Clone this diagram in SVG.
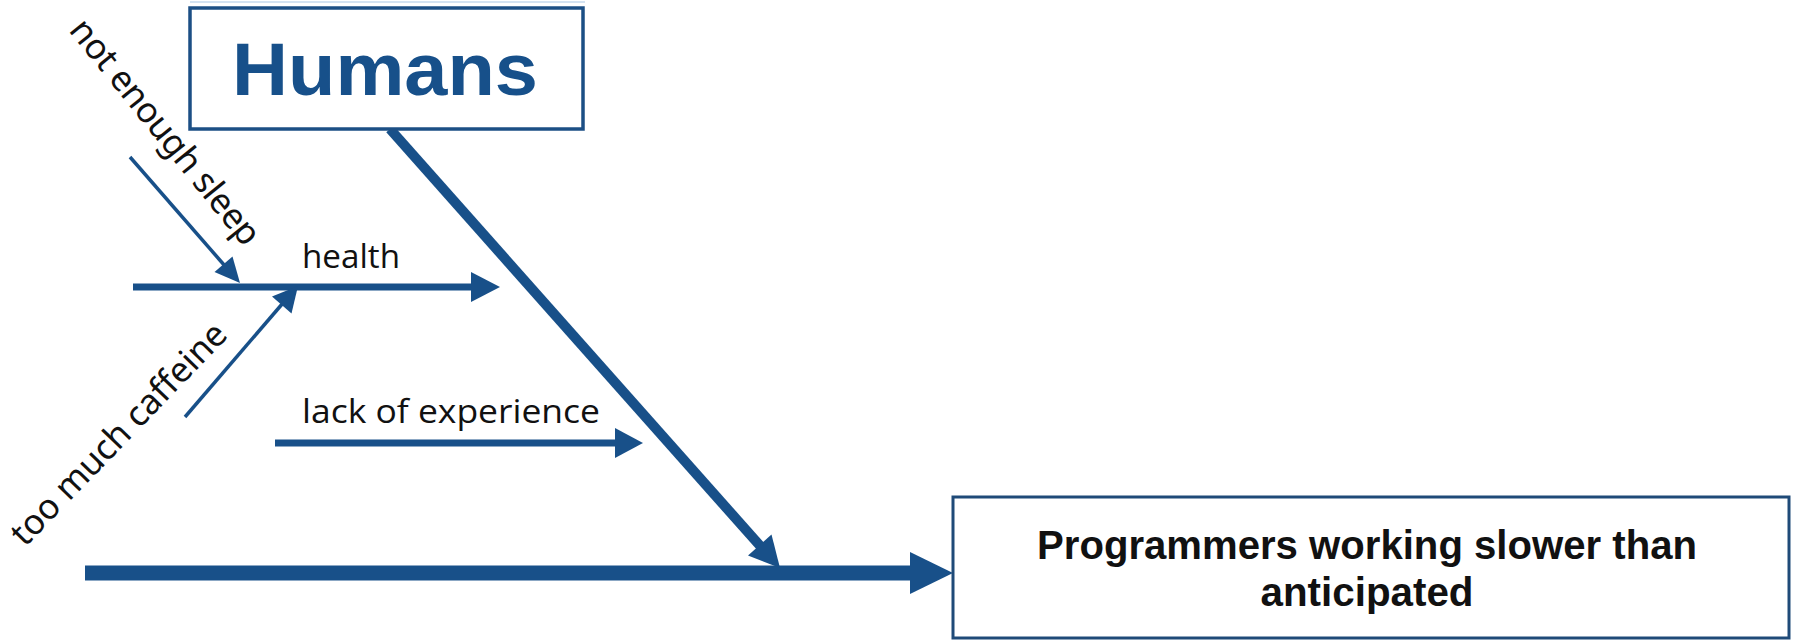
<svg xmlns="http://www.w3.org/2000/svg" width="1798" height="641" viewBox="0 0 1798 641">
  <style>
    .bg { fill: #ffffff; }
    .box { fill: #ffffff; stroke: #1c4f85; stroke-width: 3.5; }
    .rbox { fill: #ffffff; stroke: #1f4a78; stroke-width: 3; }
    .ln { stroke: #185089; fill: none; stroke-linecap: butt; }
    .hd { fill: #185089; stroke: none; }
    .lbl { font-family: "Open Sans", "Noto Sans", sans-serif; font-size: 32px; fill: #111111; }
    .rot { font-family: "Noto Sans", "Open Sans", sans-serif; font-size: 35px; fill: #111111; }
    .title { font-family: "Liberation Sans", Arial, sans-serif; font-weight: bold; font-size: 74px; fill: #17508a; }
    .res { font-family: "Liberation Sans", Arial, sans-serif; font-weight: bold; font-size: 41px; fill: #111111; }
  </style>
  <rect class="bg" x="0" y="0" width="1798" height="641"/>

  <g id="connectors">
    <!-- main spine -->
    <line class="ln" x1="85" y1="573" x2="913" y2="573" stroke-width="15"/>
    <polygon class="hd" points="953,573 910,552 910,594"/>
    <!-- Humans bone -->
    <line class="ln" x1="390" y1="129" x2="762" y2="548" stroke-width="10"/>
    <polygon class="hd" points="780,568 748,555.5 771.5,534.5"/>
    <!-- health -->
    <line class="ln" x1="133" y1="287" x2="475" y2="287" stroke-width="7"/>
    <polygon class="hd" points="500,287 471,272 471,302"/>
    <!-- lack of experience -->
    <line class="ln" x1="275" y1="443" x2="618" y2="443" stroke-width="7"/>
    <polygon class="hd" points="643,443 615,428 615,458"/>
    <!-- not enough sleep -->
    <line class="ln" x1="130" y1="157" x2="225" y2="266" stroke-width="3.5"/>
    <polygon class="hd" points="240,283 214.5,272 232.5,256.5"/>
    <!-- too much caffeine -->
    <line class="ln" x1="185" y1="417" x2="283" y2="303" stroke-width="3.5"/>
    <polygon class="hd" points="298,286 291.5,313.5 272,296.5"/>
  </g>

  <g id="node-humans">
    <line x1="190" y1="2" x2="585" y2="2" stroke="#d4e3f2" stroke-width="2"/>
    <rect class="box" x="190" y="8" width="393" height="121"/>
    <text class="title" x="232" y="95" textLength="306" lengthAdjust="spacingAndGlyphs">Humans</text>
  </g>

  <g id="node-health">
    <text class="lbl" x="302" y="268" textLength="98" lengthAdjust="spacingAndGlyphs">health</text>
  </g>

  <g id="node-lack-of-experience">
    <text class="lbl" x="302" y="423" textLength="298" lengthAdjust="spacingAndGlyphs">lack of experience</text>
  </g>

  <g id="node-not-enough-sleep">
    <text class="rot" transform="translate(164,133) rotate(51)" x="0" y="10" text-anchor="middle" textLength="280" lengthAdjust="spacing">not enough sleep</text>
  </g>

  <g id="node-too-much-caffeine">
    <text class="rot" transform="translate(120,435) rotate(-46)" x="0" y="10" text-anchor="middle" textLength="294" lengthAdjust="spacing">too much caffeine</text>
  </g>

  <g id="node-effect">
    <rect class="rbox" x="953" y="497" width="836" height="141"/>
    <text class="res" x="1367" y="559" text-anchor="middle" textLength="660" lengthAdjust="spacingAndGlyphs">Programmers working slower than</text>
    <text class="res" x="1367" y="606" text-anchor="middle" textLength="213" lengthAdjust="spacingAndGlyphs">anticipated</text>
  </g>
</svg>
